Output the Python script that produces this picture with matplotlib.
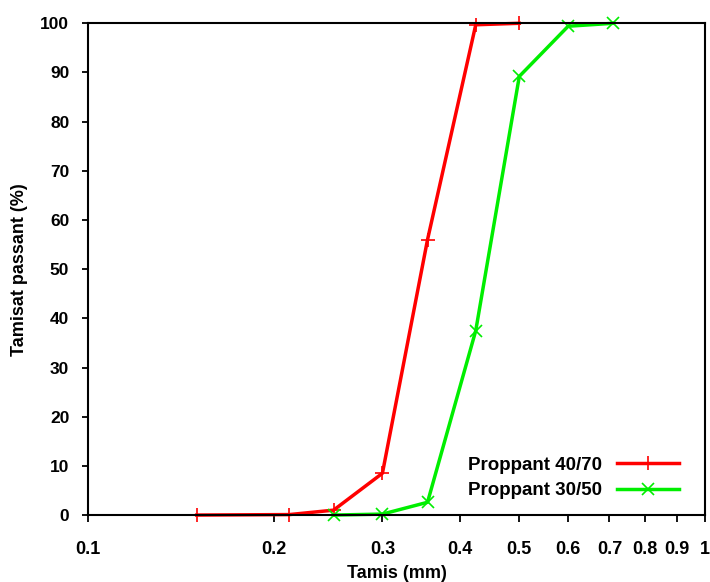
import matplotlib
matplotlib.use("Agg")
import matplotlib.pyplot as plt
from matplotlib.ticker import FixedLocator, NullLocator

plt.rcParams['font.family'] = ['Liberation Sans', 'DejaVu Sans']

sieve_4070 = [0.15, 0.212, 0.25, 0.3, 0.355, 0.425, 0.5]
pass_4070 = [0.0, 0.1, 1.0, 8.5, 56.0, 99.7, 100.0]
sieve_3050 = [0.25, 0.3, 0.355, 0.425, 0.5, 0.6, 0.71]
pass_3050 = [0.0, 0.2, 2.6, 37.5, 89.2, 99.4, 100.0]

xticks = [0.1, 0.2, 0.3, 0.4, 0.5, 0.6, 0.7, 0.8, 0.9, 1]
xticklabels = ['0.1', '0.2', '0.3', '0.4', '0.5', '0.6', '0.7', '0.8', '0.9', '1']
yticks = [0, 10, 20, 30, 40, 50, 60, 70, 80, 90, 100]

fig = plt.figure(figsize=(7.1, 5.82), dpi=100)
ax = fig.add_axes([0.124, 0.115, 0.869, 0.845])

ax.plot(sieve_4070, pass_4070, color='#ff0000', lw=2.5, marker='+', ms=10, mew=1.2,
        label='Proppant 40/70', clip_on=False)
ax.plot(sieve_3050, pass_3050, color='#00ee00', lw=2.5, marker='x', ms=9, mew=1.2,
        label='Proppant 30/50', clip_on=False)

ax.set_xscale('log')
ax.set_xlim(0.1, 1)
ax.set_ylim(0, 100)
ax.xaxis.set_major_locator(FixedLocator(xticks))
ax.xaxis.set_minor_locator(NullLocator())
ax.set_xticklabels(xticklabels, fontsize=13, fontweight='bold')
ax.set_yticks(yticks)
ax.set_yticklabels([str(v) for v in yticks], fontsize=12.5, fontweight='bold')
ax.tick_params(axis='x', direction='out', length=5, width=1.3, pad=13.5)
ax.tick_params(axis='y', direction='out', length=4.5, width=1.3, pad=9)

for s in ax.spines.values():
    s.set_linewidth(1.5)

ax.set_xlabel('Tamis (mm)', fontsize=13, fontweight='bold', labelpad=5)
ax.set_ylabel('Tamisat passant (%)', fontsize=13, fontweight='bold', labelpad=9)

leg = ax.legend(loc='lower right', bbox_to_anchor=(0.985, -0.002), frameon=False, markerfirst=False,
                prop={'size': 13.5, 'weight': 'bold'}, handlelength=3.3, labelspacing=0.45)

fig.savefig('out.png', dpi=100)
